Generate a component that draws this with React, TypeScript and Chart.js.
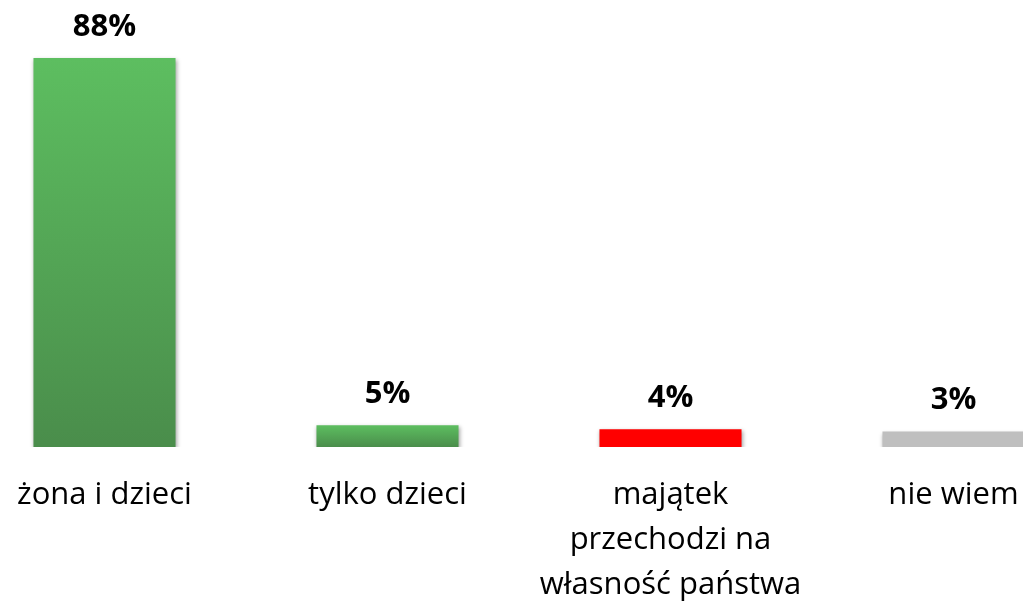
import React, { useEffect, useRef } from "react";
import { Chart, registerables } from "chart.js";

Chart.register(...registerables);

const categories: string[][] = [
  ["żona i dzieci"],
  ["tylko dzieci"],
  ["majątek", "przechodzi na", "własność państwa"],
  ["nie wiem"],
];
const values: number[] = [88, 4.9, 4, 3.5];
const valueLabels: string[] = ["88%", "5%", "4%", "3%"];
const colorsTop: string[] = ["#5DBE60", "#5DBE60", "#FF0000", "#BFBFBF"];
const colorsBottom: string[] = ["#4A8D4B", "#4A8D4B", "#FF0000", "#BFBFBF"];

const FONT = "'Open Sans', 'Noto Sans', sans-serif";

const valueLabelPlugin = {
  id: "valueLabels",
  beforeDatasetsDraw(chart: any) {
    const ctx = chart.ctx;
    ctx.save();
    ctx.shadowColor = "rgba(0,0,0,0.35)";
    ctx.shadowBlur = 4;
    ctx.shadowOffsetX = 1;
    ctx.shadowOffsetY = 2;
  },
  afterDatasetsDraw(chart: any) {
    const ctx = chart.ctx;
    ctx.restore();
    const meta = chart.getDatasetMeta(0);
    ctx.save();
    ctx.font = `bold 31px ${FONT}`;
    ctx.fillStyle = "#000000";
    ctx.textAlign = "center";
    ctx.textBaseline = "middle";
    meta.data.forEach((bar: any, i: number) => {
      ctx.fillText(valueLabels[i], bar.x, bar.y - 31);
    });
    ctx.restore();
  },
};

export default function App() {
  const canvasRef = useRef<HTMLCanvasElement | null>(null);

  useEffect(() => {
    if (!canvasRef.current) return;
    const chart = new Chart(canvasRef.current, {
      type: "bar",
      data: {
        labels: categories,
        datasets: [
          {
            data: values,
            backgroundColor: (c: any) => {
              const i = c.dataIndex;
              const chartObj = c.chart;
              const ys = chartObj.scales && chartObj.scales.y;
              if (!ys || !chartObj.chartArea || i === undefined) return colorsTop[i ?? 0];
              const top = ys.getPixelForValue(values[i]);
              const bottom = ys.getPixelForValue(0);
              if (!isFinite(top) || !isFinite(bottom) || top === bottom) return colorsTop[i];
              const g = chartObj.ctx.createLinearGradient(0, top, 0, bottom);
              g.addColorStop(0, colorsTop[i]);
              g.addColorStop(1, colorsBottom[i]);
              return g;
            },
            borderWidth: 0,
            barPercentage: 0.502,
            categoryPercentage: 1,
          },
        ],
      },
      options: {
        animation: false,
        responsive: true,
        maintainAspectRatio: false,
        layout: { padding: { top: 5, bottom: 0, left: 0, right: 0 } },
        plugins: {
          legend: { display: false },
          tooltip: { enabled: false },
        },
        scales: {
          y: {
            display: false,
            min: 0,
            max: 100,
          },
          x: {
            grid: { display: false, drawTicks: false },
            border: { display: false },
            ticks: {
              color: "#000000",
              font: { family: FONT, size: 31, lineHeight: "45px" as any },
              padding: 26,
              autoSkip: false,
              maxRotation: 0,
              minRotation: 0,
            },
          },
        },
      },
      plugins: [valueLabelPlugin],
    });
    return () => chart.destroy();
  }, []);

  return (
    <div
      style={{
        position: "fixed",
        left: 0,
        top: 0,
        width: 1023,
        height: 603,
        overflow: "hidden",
        background: "#ffffff",
      }}
    >
      <div style={{ position: "absolute", left: -37.5, top: 0, width: 1132, height: 634 }}>
        <canvas ref={canvasRef} />
      </div>
    </div>
  );
}
